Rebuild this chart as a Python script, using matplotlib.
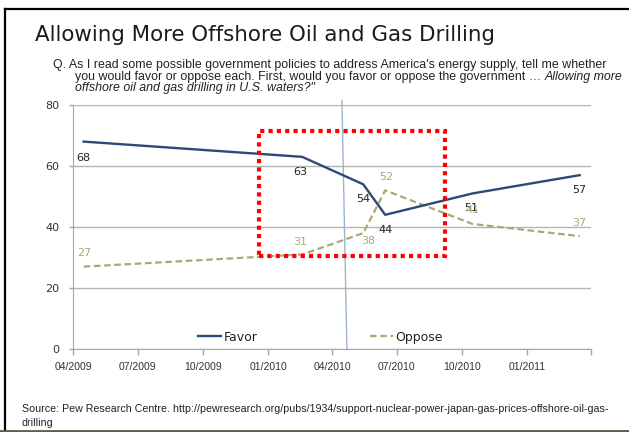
import matplotlib
matplotlib.use("Agg")
import matplotlib.pyplot as plt
import matplotlib.dates as mdates
from matplotlib.patches import Rectangle
from matplotlib.lines import Line2D
import pandas as pd

# Pew survey waves (% favor / oppose more offshore drilling)
survey_dates = pd.to_datetime(["2009-04-16", "2010-02-18", "2010-05-15",
                               "2010-06-15", "2010-10-16", "2011-03-16"])
favor = [68, 63, 54, 44, 51, 57]
oppose = [27, 31, 38, 52, 41, 37]

# label offsets in pixels (x, y) for each wave
favor_offsets = [(0, -16), (-2, -15), (0, -15), (0, -15), (-1, -15), (0, -15)]
oppose_offsets = [(1, 14), (-2, 12), (5, -8), (1, 13), (0, 14), (0, 13)]

# Deepwater Horizon marker and the highlighted period
spill_dates = pd.to_datetime(["2010-04-15", "2010-04-22"])
spill_y = [81.5, 0]
box_start, box_end = pd.Timestamp("2009-12-19"), pd.Timestamp("2010-09-07")
box_low, box_high = 30.5, 71.5

tick_dates = pd.date_range("2009-04-01", "2011-04-01", freq="3MS")
tick_labels = [d.strftime("%m/%Y") for d in tick_dates[:-1]] + [""]

FAVOR_C = "#2C4A78"
OPPOSE_C = "#ADA777"
SMALL = "Liberation Sans"

fig = plt.figure(figsize=(6.29, 4.32), dpi=100)
ax = fig.add_axes([73 / 629, 1 - 349 / 432, 518 / 629, 244 / 432])

ax.plot(survey_dates, favor, color=FAVOR_C, lw=1.7, label="Favor", zorder=4)
ax.plot(survey_dates, oppose, color=OPPOSE_C, lw=1.6, ls=(0, (3, 1.6)),
        label="Oppose", zorder=3)

for d, v, off in zip(survey_dates, favor, favor_offsets):
    ax.annotate(str(v), (d, v), xytext=off, textcoords="offset pixels",
                ha="center", va="center", fontsize=8, color="#222222")
for d, v, off in zip(survey_dates, oppose, oppose_offsets):
    ax.annotate(str(v), (d, v), xytext=off, textcoords="offset pixels",
                ha="center", va="center", fontsize=8, color=OPPOSE_C)

# oil spill line
ax.plot(spill_dates, spill_y, color="#9DB2D0", lw=1.0, clip_on=False, zorder=2)

# highlight box
ax.add_patch(Rectangle((mdates.date2num(box_start), box_low),
                       mdates.date2num(box_end) - mdates.date2num(box_start),
                       box_high - box_low, fill=False, ec="#FF0000", lw=3,
                       ls=(0, (1, 1)), clip_on=False, zorder=5))

ax.set_ylim(0, 80)
ax.set_yticks([0, 20, 40, 60, 80])
ax.set_xlim(tick_dates[0], tick_dates[-1])
ax.set_xticks(tick_dates)
ax.set_xticklabels(tick_labels, family=SMALL)
ax.grid(axis="y", color="#B4B4B4", lw=1)
ax.set_axisbelow(True)
for s in ["top", "right"]:
    ax.spines[s].set_visible(False)
for s in ["left", "bottom"]:
    ax.spines[s].set_color("#A6A6A6")
ax.tick_params(axis="y", length=3, width=1, color="#A6A6A6", pad=7,
               labelsize=8, labelcolor="#333333")
ax.tick_params(axis="x", length=4, width=1, color="#A6A6A6", pad=5,
               labelsize=7.5, labelcolor="#333333")

ax.legend(loc="center left", bbox_to_anchor=(0.241, 0.049), ncol=2,
          frameon=False, fontsize=9, handlelength=1.85, handletextpad=0.2,
          columnspacing=9, borderpad=0, borderaxespad=0, labelcolor="#222222")

# heading and question
fig.text(35 / 629, 1 - 35 / 432, "Allowing More Offshore Oil and Gas Drilling",
         fontsize=15.4, color="#1A1A1A", va="center")

renderer = fig.canvas.get_renderer()


def fit_width(texts, width_px):
    """Scale the font size of a run of texts so together they span width_px."""
    w = sum(t.get_window_extent(renderer).width for t in texts)
    for t in texts:
        t.set_fontsize(t.get_fontsize() * width_px / w)


q_kw = dict(fontsize=9, color="#222222", va="center", family=SMALL)
q1 = fig.text(53 / 629, 1 - 65 / 432,
              "Q. As I read some possible government policies to address America's "
              "energy supply, tell me whether", **q_kw)
fit_width([q1], 550)
q_kw["fontsize"] = q1.get_fontsize()
q2 = fig.text(75 / 629, 1 - 77 / 432,
              "you would favor or oppose each. First, would you favor or oppose "
              "the government \u2026 ", **q_kw)
ax.annotate("Allowing more", xy=(1, 0.5), xycoords=q2, va="center",
            style="italic", annotation_clip=False, **{k: v for k, v in q_kw.items() if k != "va"})
fig.text(75 / 629, 1 - 88 / 432, "offshore oil and gas drilling in U.S. waters?\"",
         style="italic", **q_kw)

src_kw = dict(fontsize=8, color="#222222", va="center", family=SMALL)
s1 = fig.text(22 / 629, 1 - 409 / 432,
              "Source: Pew Research Centre. http://pewresearch.org/pubs/1934/"
              "support-nuclear-power-japan-gas-prices-offshore-oil-gas-", **src_kw)
fit_width([s1], 586)
src_kw["fontsize"] = s1.get_fontsize()
fig.text(22 / 629, 1 - 423 / 432, "drilling", **src_kw)

# frame lines
fig.add_artist(Line2D([5 / 629, 1], [1 - 8.5 / 432] * 2, color="black", lw=1.6))
fig.add_artist(Line2D([5 / 629] * 2, [1 - 8.5 / 432, 2 / 432], color="black", lw=1.6))
fig.add_artist(Line2D([0, 1], [1 / 432] * 2, color="#5E5E4A", lw=2))

fig.savefig("out.png", dpi=100, facecolor="white")
